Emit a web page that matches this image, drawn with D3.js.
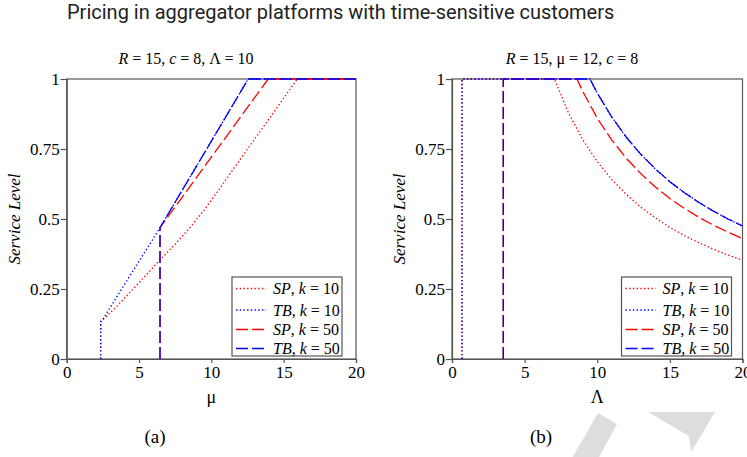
<html>
<head>
<script src="https://d3js.org/d3.v7.min.js"></script>
<style>
  body { margin: 0; background: #fff; }
  svg text { font-family: "Liberation Serif", "Times New Roman", Times, serif; fill: #000; }
  svg text.title { font-family: Roboto, "Open Sans", sans-serif; font-size: 20px; fill: #222; }
</style>
</head>
<body>
<svg width="747" height="457"></svg>
<script>
// ---- data ----
// panel (a): service level against mu
var muSP10 = [2.35, 2.35, 2.5, 3.5, 4.5, 5.5, 6.45, 7.5, 8.5, 9.5, 10.5, 11.5, 12.5, 13.5, 14.5, 15.94, 20];
var slSP10a = [0, 0.133, 0.14, 0.19, 0.245, 0.3, 0.354, 0.41, 0.468, 0.532, 0.603, 0.677, 0.75, 0.822, 0.895, 1, 1];
var muTB10 = [2.35, 2.35, 2.5, 3.5, 4.5, 5.5, 6.45, 12.55, 20];
var slTB10a = [0, 0.133, 0.142, 0.225, 0.308, 0.39, 0.469, 1, 1];
var muSP50 = [6.45, 6.45, 13.93, 20];
var slSP50a = [0, 0.469, 1, 1];
var muTB50 = [6.45, 6.45, 12.55, 20];
var slTB50a = [0, 0.469, 1, 1];

// panel (b): service level against Lambda
var lamSP10 = [0.69, 0.69, 7.05, 8, 9, 10, 11, 12, 13, 14, 15, 16, 17, 18, 19, 20];
var slSP10b = [0, 1, 1, 0.881, 0.783, 0.705, 0.641, 0.588, 0.542, 0.504, 0.47, 0.441, 0.415, 0.392, 0.371, 0.353];
var lamTB10 = [0.69, 0.69, 9.5, 10, 11, 12, 13, 14, 15, 16, 17, 18, 19, 20];
var slTB10b = [0, 1, 1, 0.95, 0.864, 0.792, 0.731, 0.679, 0.633, 0.594, 0.559, 0.528, 0.5, 0.475];
var lamSP50 = [3.53, 3.53, 8.6, 9, 10, 11, 12, 13, 14, 15, 16, 17, 18, 19, 20];
var slSP50b = [0, 1, 1, 0.956, 0.86, 0.782, 0.717, 0.662, 0.614, 0.573, 0.538, 0.506, 0.478, 0.453, 0.43];
var lamTB50 = [3.53, 3.53, 9.5, 10, 11, 12, 13, 14, 15, 16, 17, 18, 19, 20];
var slTB50b = [0, 1, 1, 0.95, 0.864, 0.792, 0.731, 0.679, 0.633, 0.594, 0.559, 0.528, 0.5, 0.475];

var xTicks = [0, 5, 10, 15, 20];
var yTicks = [0, 0.25, 0.5, 0.75, 1];
var yTickLabels = ["0", "0.25", "0.5", "0.75", "1"];
var seriesNames = ["SP", "TB", "SP", "TB"];
var seriesK = [10, 10, 50, 50];
var seriesColors = ["#ff0000", "#0000ff", "#ff0000", "#0000ff"];
var seriesDash = ["1.4,2.3", "1.4,2.3", "12,4", "12,4"];

var serif = "'Liberation Serif', 'Times New Roman', Times, serif";
var svg = d3.select("svg");

// faint draft watermark in the lower right corner
svg.append("path")
  .attr("d", "M598,413 L617,424 L592,470 L571,460 Z M648,412 L715,412 L696,444 L691,452 L689,436 Z")
  .attr("fill", "#dddddd");

svg.append("text").attr("class", "title")
  .attr("x", 67).attr("y", 19)
  .text("Pricing in aggregator platforms with time-sensitive customers");

function zip(xs, ys) {
  return xs.map(function (x, i) { return [x, ys[i]]; });
}

function panel(opts) {
  var x = d3.scaleLinear().domain([0, 20]).range([opts.left, opts.right]);
  var y = d3.scaleLinear().domain([0, 1]).range([359, 79]);
  var g = svg.append("g");

  // frame
  g.append("rect")
    .attr("x", opts.left).attr("y", 79)
    .attr("width", opts.right - opts.left).attr("height", 280)
    .attr("fill", "none").attr("stroke", "#555").attr("stroke-width", 1.2);

  var xa = g.append("g").attr("transform", "translate(0,359)")
    .call(d3.axisBottom(x).tickValues(xTicks).tickSize(4).tickPadding(3).tickFormat(d3.format("d")));
  var ya = g.append("g").attr("transform", "translate(" + opts.left + ",0)")
    .call(d3.axisLeft(y).tickValues(yTicks).tickSize(6).tickPadding(1)
      .tickFormat(function (d, i) { return yTickLabels[i]; }));
  [xa, ya].forEach(function (a) {
    a.attr("font-family", serif).attr("font-size", 17);
    a.select(".domain").attr("stroke", "#555").attr("stroke-width", 1.2);
    a.selectAll(".tick line").attr("stroke", "#555").attr("stroke-width", 1.2);
    a.selectAll(".tick text").attr("fill", "#000");
  });

  var line = d3.line().x(function (d) { return x(d[0]); }).y(function (d) { return y(d[1]); });
  opts.series.forEach(function (s, i) {
    g.append("path").datum(s)
      .attr("d", line)
      .attr("fill", "none")
      .attr("stroke", seriesColors[i])
      .attr("stroke-width", 1.3)
      .attr("stroke-dasharray", seriesDash[i]);
  });

  // subtitle
  var st = g.append("text").attr("x", opts.subX).attr("y", 64)
    .attr("text-anchor", "middle").attr("font-size", 16);
  opts.sub.forEach(function (p) {
    st.append("tspan").attr("font-style", p[1] ? "italic" : "normal").text(p[0]);
  });

  // axis labels and caption
  g.append("text").attr("x", (opts.left + opts.right) / 2).attr("y", 403)
    .attr("text-anchor", "middle").attr("font-size", 18).text(opts.xLabel);
  g.append("text")
    .attr("transform", "translate(" + opts.yLabX + ",219) rotate(-90)")
    .attr("text-anchor", "middle").attr("font-size", 17).attr("font-style", "italic")
    .text("Service Level");
  g.append("text").attr("x", opts.capX).attr("y", 443)
    .attr("text-anchor", "middle").attr("font-size", 19).text(opts.caption);

  // legend
  var lx = opts.legX;
  g.append("rect").attr("x", lx).attr("y", 277).attr("width", 110).attr("height", 79)
    .attr("fill", "#fff").attr("stroke", "#555").attr("stroke-width", 1.2);
  var rowY = [288.5, 310, 329.5, 348.5];
  seriesNames.forEach(function (n, i) {
    g.append("line").attr("x1", lx + 4).attr("x2", lx + 34)
      .attr("y1", rowY[i]).attr("y2", rowY[i])
      .attr("stroke", seriesColors[i]).attr("stroke-width", 1.3)
      .attr("stroke-dasharray", seriesDash[i]);
    var t = g.append("text").attr("x", lx + 41).attr("y", rowY[i] + 5.5).attr("font-size", 16);
    t.append("tspan").attr("font-style", "italic").text(n);
    t.append("tspan").text(", ");
    t.append("tspan").attr("font-style", "italic").text("k");
    t.append("tspan").text(" = " + seriesK[i]);
  });
}

panel({
  left: 66.7, right: 356, legX: 232, subX: 186, yLabX: 20, capX: 155,
  xLabel: "\u03bc", caption: "(a)",
  sub: [["R", true], [" = 15, ", false], ["c", true], [" = 8, \u039b = 10", false]],
  series: [zip(muSP10, slSP10a), zip(muTB10, slTB10a), zip(muSP50, slSP50a), zip(muTB50, slTB50a)]
});
panel({
  left: 452, right: 742.5, legX: 621.5, subX: 572, yLabX: 405, capX: 541,
  xLabel: "\u039b", caption: "(b)",
  sub: [["R", true], [" = 15, \u03bc = 12, ", false], ["c", true], [" = 8", false]],
  series: [zip(lamSP10, slSP10b), zip(lamTB10, slTB10b), zip(lamSP50, slSP50b), zip(lamTB50, slTB50b)]
});
</script>
</body>
</html>
